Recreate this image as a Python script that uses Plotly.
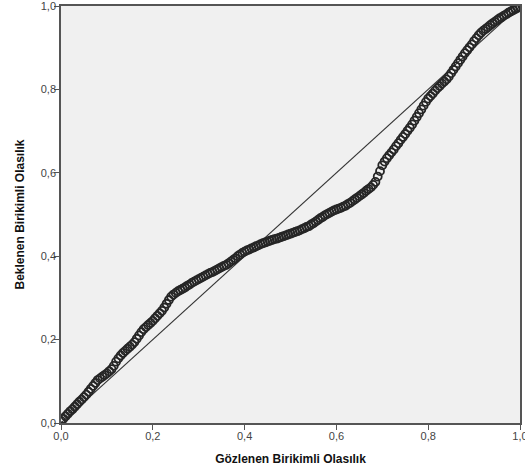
import plotly.graph_objects as go

observed = [0.000, 0.005, 0.010, 0.015, 0.020, 0.025, 0.030, 0.035, 0.040, 0.045,
            0.050, 0.055, 0.060, 0.065, 0.070, 0.075, 0.080, 0.085, 0.090, 0.095,
            0.100, 0.105, 0.110, 0.115, 0.120, 0.125, 0.130, 0.135, 0.140, 0.145,
            0.150, 0.155, 0.160, 0.165, 0.170, 0.175, 0.180, 0.185, 0.190, 0.195,
            0.200, 0.205, 0.210, 0.215, 0.220, 0.225, 0.230, 0.235, 0.240, 0.245,
            0.250, 0.255, 0.260, 0.265, 0.270, 0.275, 0.280, 0.285, 0.290, 0.295,
            0.300, 0.305, 0.310, 0.315, 0.320, 0.325, 0.330, 0.335, 0.340, 0.345,
            0.350, 0.355, 0.360, 0.365, 0.370, 0.375, 0.380, 0.385, 0.390, 0.395,
            0.400, 0.405, 0.410, 0.415, 0.420, 0.425, 0.430, 0.435, 0.440, 0.445,
            0.450, 0.455, 0.460, 0.465, 0.470, 0.475, 0.480, 0.485, 0.490, 0.495,
            0.500, 0.505, 0.510, 0.515, 0.520, 0.525, 0.530, 0.535, 0.540, 0.545,
            0.550, 0.555, 0.560, 0.565, 0.570, 0.575, 0.580, 0.585, 0.590, 0.595,
            0.600, 0.605, 0.610, 0.615, 0.620, 0.625, 0.630, 0.635, 0.640, 0.645,
            0.650, 0.655, 0.660, 0.665, 0.670, 0.675, 0.680, 0.685, 0.690, 0.695,
            0.700, 0.705, 0.710, 0.715, 0.720, 0.725, 0.730, 0.735, 0.740, 0.745,
            0.750, 0.755, 0.760, 0.765, 0.770, 0.775, 0.780, 0.785, 0.790, 0.795,
            0.800, 0.805, 0.810, 0.815, 0.820, 0.825, 0.830, 0.835, 0.840, 0.845,
            0.850, 0.855, 0.860, 0.865, 0.870, 0.875, 0.880, 0.885, 0.890, 0.895,
            0.900, 0.905, 0.910, 0.915, 0.920, 0.925, 0.930, 0.935, 0.940, 0.945,
            0.950, 0.955, 0.960, 0.965, 0.970, 0.975, 0.980, 0.985, 0.990, 0.995,
            1.000]
expected = [0.005, 0.010, 0.016, 0.022, 0.028, 0.033, 0.039, 0.045, 0.051, 0.056,
            0.062, 0.068, 0.075, 0.082, 0.089, 0.096, 0.103, 0.107, 0.111, 0.115,
            0.119, 0.124, 0.129, 0.137, 0.147, 0.155, 0.162, 0.168, 0.173, 0.178,
            0.183, 0.188, 0.194, 0.202, 0.210, 0.218, 0.225, 0.230, 0.235, 0.240,
            0.245, 0.251, 0.257, 0.263, 0.269, 0.277, 0.286, 0.295, 0.303, 0.308,
            0.312, 0.316, 0.319, 0.322, 0.325, 0.329, 0.332, 0.336, 0.339, 0.342,
            0.345, 0.348, 0.351, 0.354, 0.357, 0.360, 0.362, 0.365, 0.368, 0.371,
            0.374, 0.377, 0.379, 0.383, 0.387, 0.391, 0.395, 0.400, 0.404, 0.408,
            0.411, 0.414, 0.416, 0.419, 0.421, 0.424, 0.426, 0.429, 0.431, 0.433,
            0.435, 0.437, 0.439, 0.441, 0.442, 0.444, 0.446, 0.448, 0.450, 0.452,
            0.454, 0.456, 0.458, 0.460, 0.462, 0.465, 0.467, 0.470, 0.472, 0.476,
            0.479, 0.483, 0.487, 0.491, 0.494, 0.498, 0.501, 0.504, 0.507, 0.510,
            0.512, 0.514, 0.516, 0.519, 0.521, 0.525, 0.528, 0.532, 0.536, 0.540,
            0.544, 0.548, 0.552, 0.557, 0.561, 0.565, 0.571, 0.578, 0.591, 0.604,
            0.618, 0.627, 0.635, 0.642, 0.649, 0.656, 0.664, 0.671, 0.679, 0.686,
            0.693, 0.701, 0.708, 0.716, 0.725, 0.734, 0.743, 0.752, 0.761, 0.770,
            0.778, 0.784, 0.790, 0.797, 0.803, 0.808, 0.814, 0.819, 0.824, 0.831,
            0.839, 0.847, 0.855, 0.863, 0.871, 0.879, 0.887, 0.894, 0.901, 0.908,
            0.916, 0.923, 0.930, 0.936, 0.941, 0.945, 0.949, 0.954, 0.958, 0.962,
            0.966, 0.970, 0.973, 0.977, 0.980, 0.984, 0.987, 0.990, 0.993, 0.996,
            0.998]

ref_line = [0.0, 1.0]
tick_vals = [0.0, 0.2, 0.4, 0.6, 0.8, 1.0]
tick_text = ["0,0", "0,2", "0,4", "0,6", "0,8", "1,0"]

fig = go.Figure()
fig.add_trace(go.Scatter(x=ref_line, y=ref_line, mode="lines",
                         line=dict(color="#333333", width=1.1),
                         hoverinfo="skip", showlegend=False))
fig.add_trace(go.Scatter(x=observed, y=expected, mode="markers",
                         marker=dict(symbol="circle-open", size=8, color="#262626",
                                     line=dict(width=1.8, color="#262626")),
                         showlegend=False))

axis_common = dict(range=[0, 1], tickvals=tick_vals, ticktext=tick_text,
                   showgrid=False, zeroline=False, showline=True, mirror=True,
                   linecolor="#555555", linewidth=1.5, ticks="outside",
                   ticklen=5, tickcolor="#555555", tickwidth=1.2,
                   automargin=False, ticklabeloverflow="allow",
                   tickfont=dict(family="Liberation Sans", size=11, color="#444444"))

fig.update_layout(
    width=525, height=472,
    margin=dict(l=61, r=5, t=6, b=49),
    paper_bgcolor="white", plot_bgcolor="#f0f0f0",
    xaxis=dict(**axis_common, ticklabelstandoff=-3,
               title=dict(text="Gözlenen Birikimli Olasılık", standoff=14,
                          font=dict(family="Liberation Sans", size=12, color="#111111", weight="bold"))),
    yaxis=dict(**axis_common, ticklabelstandoff=-4,
               title=dict(text="Beklenen Birikimli Olasılık", standoff=14,
                          font=dict(family="Liberation Sans", size=12, color="#111111", weight="bold"))),
)

fig.write_html("out.html", config={"displayModeBar": False},
               post_script="document.body.style.margin='0';document.body.style.padding='0';document.body.style.overflow='hidden';")
